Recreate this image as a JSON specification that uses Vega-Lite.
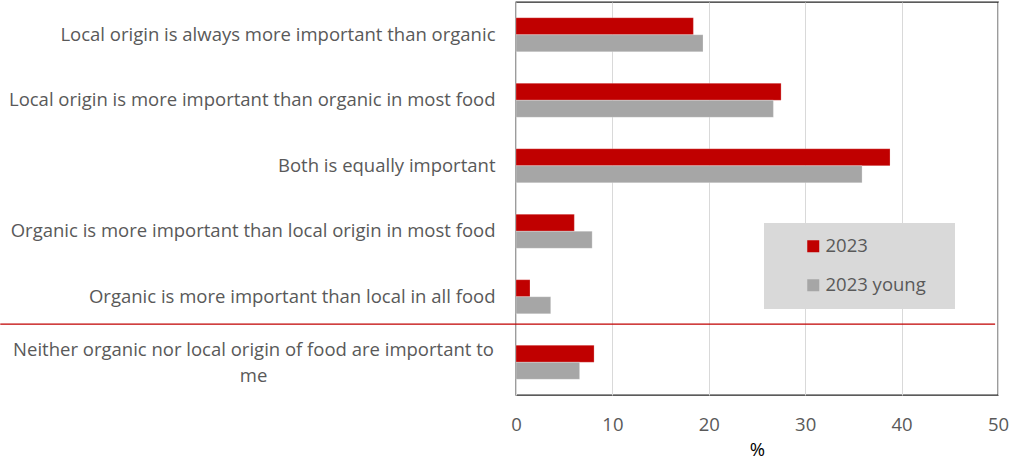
{
  "$schema": "https://vega.github.io/schema/vega-lite/v6.json",
  "autosize": "none",
  "width": 482,
  "height": 393,
  "padding": {"left": 516, "top": 2, "right": 21, "bottom": 67},
  "background": "white",
  "config": {
    "view": {"stroke": "#262626", "strokeWidth": 1.3},
    "font": "Open Sans",
    "axis": {"labelFont": "Open Sans", "titleFont": "Open Sans"}
  },
  "datasets": {
    "bars": [
      {"category": "Local origin is always more important than organic", "series": "2023", "value": 18.4},
      {"category": "Local origin is always more important than organic", "series": "2023 young", "value": 19.4},
      {"category": "Local origin is more important than organic in most food", "series": "2023", "value": 27.5},
      {"category": "Local origin is more important than organic in most food", "series": "2023 young", "value": 26.7},
      {"category": "Both is equally important", "series": "2023", "value": 38.8},
      {"category": "Both is equally important", "series": "2023 young", "value": 35.9},
      {"category": "Organic is more important than local origin in most food", "series": "2023", "value": 6.05},
      {"category": "Organic is more important than local origin in most food", "series": "2023 young", "value": 7.9},
      {"category": "Organic is more important than local in all food", "series": "2023", "value": 1.45},
      {"category": "Organic is more important than local in all food", "series": "2023 young", "value": 3.6},
      {"category": "Neither organic nor local origin of food are important to me", "series": "2023", "value": 8.1},
      {"category": "Neither organic nor local origin of food are important to me", "series": "2023 young", "value": 6.6}
    ],
    "separator": [
      {"category": "Neither organic nor local origin of food are important to me", "start": -53.5, "end": 49.7}
    ]
  },
  "layer": [
    {
      "data": {"name": "bars"},
      "mark": {"type": "bar", "stroke": "white", "strokeOpacity": 0.4, "strokeWidth": 0.6},
      "encoding": {
        "y": {
          "field": "category",
          "type": "nominal",
          "sort": null,
          "scale": {"paddingInner": 0.48, "paddingOuter": 0.24},
          "axis": {
            "title": null,
            "ticks": false,
            "domain": false,
            "labelFontSize": 18.5,
            "labelColor": "#595959",
            "labelLimit": 600,
            "labelPadding": {"condition": {"test": "indexof(datum.value, 'Neither') == 0", "value": 263}, "value": 21},
            "labelAlign": {"condition": {"test": "indexof(datum.value, 'Neither') == 0", "value": "center"}, "value": "right"},
            "labelOffset": {"condition": {"test": "indexof(datum.value, 'Neither') == 0", "value": -12}, "value": 0},
            "labelExpr": "indexof(datum.value, 'Neither') == 0 ? ['Neither organic nor local origin of food are important to', 'me'] : datum.value",
            "labelLineHeight": 26
          }
        },
        "yOffset": {"field": "series", "type": "nominal", "scale": {"paddingInner": 0, "paddingOuter": 0}},
        "x": {
          "field": "value",
          "type": "quantitative",
          "scale": {"domain": [0, 50]},
          "axis": {
            "title": "%",
            "titleFontSize": 18.5,
            "titleFontWeight": "normal",
            "titleColor": "#000000",
            "titlePadding": 7,
            "values": [0, 10, 20, 30, 40, 50],
            "ticks": false,
            "domain": false,
            "labelFlush": false,
            "labelFontSize": 18.5,
            "labelColor": "#595959",
            "labelPadding": 20,
            "gridColor": "#d9d9d9",
            "gridWidth": 1
          }
        },
        "color": {
          "field": "series",
          "type": "nominal",
          "scale": {"domain": ["2023", "2023 young"], "range": ["#c00000", "#a6a6a6"]},
          "legend": {
            "title": "\u00a0",
            "titleOrient": "right",
            "titlePadding": 15,
            "titleFontSize": 18.5,
            "orient": "none",
            "legendX": 248,
            "legendY": 221,
            "fillColor": "#d9d9d9",
            "padding": 14,
            "symbolOffset": 26,
            "symbolType": "square",
            "symbolSize": 144,
            "symbolStrokeWidth": 0,
            "labelFontSize": 18.5,
            "labelColor": "#595959",
            "labelFont": "Open Sans",
            "labelOffset": 3,
            "rowPadding": 20
          }
        }
      }
    },
    {
      "data": {"name": "separator"},
      "mark": {"type": "rule", "color": "#c00000", "strokeWidth": 1.2, "yOffset": -21},
      "encoding": {
        "y": {"field": "category", "type": "nominal", "sort": null, "bandPosition": 0},
        "x": {"field": "start", "type": "quantitative"},
        "x2": {"field": "end"}
      }
    }
  ]
}
